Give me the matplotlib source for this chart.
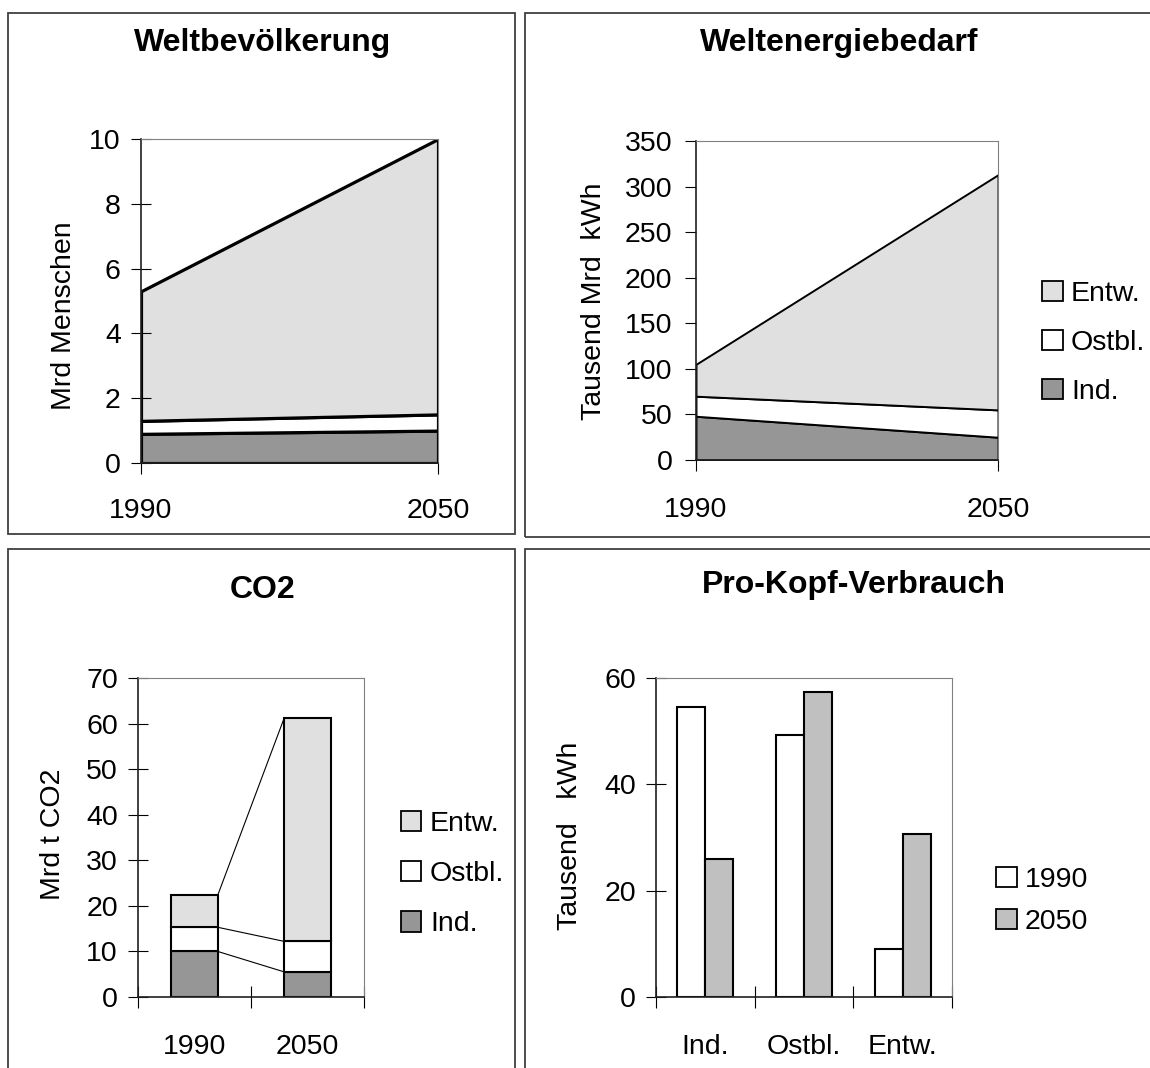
import numpy as np
import matplotlib
matplotlib.use('Agg')
import matplotlib.pyplot as plt
from matplotlib.patches import Rectangle, Patch

plt.rcParams['font.family'] = ['Liberation Sans', 'DejaVu Sans']

# Weltbevölkerung (Mrd Menschen)
jahre = [1990, 2050]
bev_ind = [0.9, 1.0]
bev_ostbl = [0.4, 0.5]
bev_entw = [4.0, 8.5]

# Weltenergiebedarf (Tausend Mrd kWh)
energie_ind = [48, 25]
energie_ostbl = [22, 30]
energie_entw = [35, 258]

# CO2 (Mrd t CO2)
co2_jahre = ['1990', '2050']
co2_ind = [10.0, 5.5]
co2_ostbl = [5.3, 6.7]
co2_entw = [7.0, 49.1]

# Pro-Kopf-Verbrauch (Tausend kWh)
regionen = ['Ind.', 'Ostbl.', 'Entw.']
kopf_1990 = [54.5, 49.3, 9.1]
kopf_2050 = [25.9, 57.3, 30.6]

serien = ['Ind.', 'Ostbl.', 'Entw.']
farben = ['#969696', 'white', '#e0e0e0']
jahr_farben = ['white', '#c0c0c0']

FS = 20.5
W, H = 1150, 1068
fig = plt.figure(figsize=(W / 100, H / 100), dpi=100)


def pos(x0, y0, x1, y1):
    return [x0 / W, 1 - y1 / H, (x1 - x0) / W, (y1 - y0) / H]


def rahmen(x0, y0, x1, y1):
    fig.patches.append(Rectangle((x0 / W, 1 - y1 / H), (x1 - x0) / W, (y1 - y0) / H,
                                 transform=fig.transFigure, fill=False,
                                 edgecolor='#404040', lw=1.3))


def style(ax, ytick='inout'):
    ax.spines['top'].set_color('#808080')
    ax.spines['right'].set_color('#808080')
    ax.spines['left'].set_color('#202020')
    ax.spines['bottom'].set_color('#202020')
    ax.spines['left'].set_linewidth(1.2)
    ax.spines['bottom'].set_linewidth(1.2)
    if ytick == 'inout':
        ax.tick_params(axis='y', direction='inout', length=14, width=0.8, pad=7.5, labelsize=FS)
    else:
        ax.tick_params(axis='y', direction='out', length=8, width=0.8, pad=9, labelsize=FS)


def legende(labels, colors, x, y, abstand):
    handles = [Patch(facecolor=c, edgecolor='black', lw=1.3) for c in colors]
    fig.legend(handles, labels, loc='center left', bbox_to_anchor=(x / W, 1 - y / H),
               frameon=False, fontsize=FS, handlelength=0.72, handleheight=0.72,
               handletextpad=0.3, labelspacing=abstand, borderpad=0, borderaxespad=0)


def titel(text, x, y):
    fig.text(x / W, 1 - y / H, text, ha='center', va='center', fontsize=23, fontweight='bold')


def ylabel(text, x, y):
    fig.text(x / W, 1 - y / H, text, ha='center', va='center', rotation=90, fontsize=FS)


rahmen(8, 13, 515, 534)
rahmen(525, 13, 1165, 537)
rahmen(8, 549, 515, 1085)
rahmen(525, 549, 1165, 1085)

# Panel 1: Weltbevölkerung
ax1 = fig.add_axes(pos(141, 139, 438, 463))
ax1.stackplot(jahre, bev_ind, bev_ostbl, bev_entw, colors=farben,
              edgecolor='black', lw=2.3)
ax1.set_xlim(1990, 2050)
ax1.set_ylim(0, 10)
ax1.set_yticks([0, 2, 4, 6, 8, 10])
ax1.set_xticks(jahre)
style(ax1)
ax1.tick_params(axis='x', direction='out', length=8, width=0.8, pad=17, labelsize=FS)
titel('Weltbevölkerung', 263, 43)
ylabel('Mrd Menschen', 64, 316)

# Panel 2: Weltenergiebedarf
ax2 = fig.add_axes(pos(696, 141, 998, 460))
ax2.stackplot(jahre, energie_ind, energie_ostbl, energie_entw, colors=farben,
              edgecolor='black', lw=1.4)
ax2.set_xlim(1990, 2050)
ax2.set_ylim(0, 350)
ax2.set_yticks(np.arange(0, 351, 50))
ax2.set_xticks(jahre)
style(ax2, ytick='out')
ax2.tick_params(axis='x', direction='out', length=8, width=0.8, pad=18.5, labelsize=FS)
titel('Weltenergiebedarf', 839, 43)
ylabel('Tausend Mrd  kWh', 594, 301)
legende(serien[::-1], farben[::-1], 1042, 343, 0.8)

# Panel 3: CO2
ax3 = fig.add_axes(pos(138, 678, 364, 997))
x3 = np.arange(len(co2_jahre))
bw = 0.41
unten = np.zeros(len(co2_jahre))
for werte, farbe in zip([co2_ind, co2_ostbl, co2_entw], farben):
    ax3.bar(x3, werte, bw, bottom=unten, color=farbe, edgecolor='black', lw=1.5, zorder=2)
    unten = unten + np.array(werte)
    ax3.plot([x3[0] + bw / 2, x3[1] - bw / 2], [unten[0], unten[1]], color='black', lw=0.8, zorder=2)
ax3.set_xlim(-0.5, 1.5)
ax3.set_ylim(0, 70)
ax3.set_yticks(np.arange(0, 71, 10))
ax3.set_xticks(x3)
ax3.set_xticklabels(co2_jahre)
ax3.set_xticks([-0.5, 0.5, 1.5], minor=True)
style(ax3)
ax3.tick_params(axis='x', which='major', length=0, pad=27, labelsize=FS)
ax3.tick_params(axis='x', which='minor', direction='inout', length=16, width=0.8)
titel('CO2', 263, 590)
ylabel('Mrd t CO2', 53, 834)
legende(serien[::-1], farben[::-1], 401, 874, 0.85)

# Panel 4: Pro-Kopf-Verbrauch
ax4 = fig.add_axes(pos(656, 678, 952, 997))
x4 = np.arange(len(regionen))
bw4 = 0.284
ax4.bar(x4 - bw4 / 2, kopf_1990, bw4, color=jahr_farben[0], edgecolor='black', lw=1.5, zorder=2)
ax4.bar(x4 + bw4 / 2, kopf_2050, bw4, color=jahr_farben[1], edgecolor='black', lw=1.5, zorder=2)
ax4.set_xlim(-0.5, 2.5)
ax4.set_ylim(0, 60)
ax4.set_yticks([0, 20, 40, 60])
ax4.set_xticks(x4)
ax4.set_xticklabels(regionen)
ax4.set_xticks([-0.5, 0.5, 1.5, 2.5], minor=True)
style(ax4)
ax4.tick_params(axis='x', which='major', length=0, pad=27, labelsize=FS)
ax4.tick_params(axis='x', which='minor', direction='inout', length=16, width=0.8)
titel('Pro-Kopf-Verbrauch', 854, 585)
ylabel('Tausend   kWh', 570, 836)
legende(['1990', '2050'], jahr_farben, 996, 901, 0.55)

fig.savefig('out.png', dpi=100)
